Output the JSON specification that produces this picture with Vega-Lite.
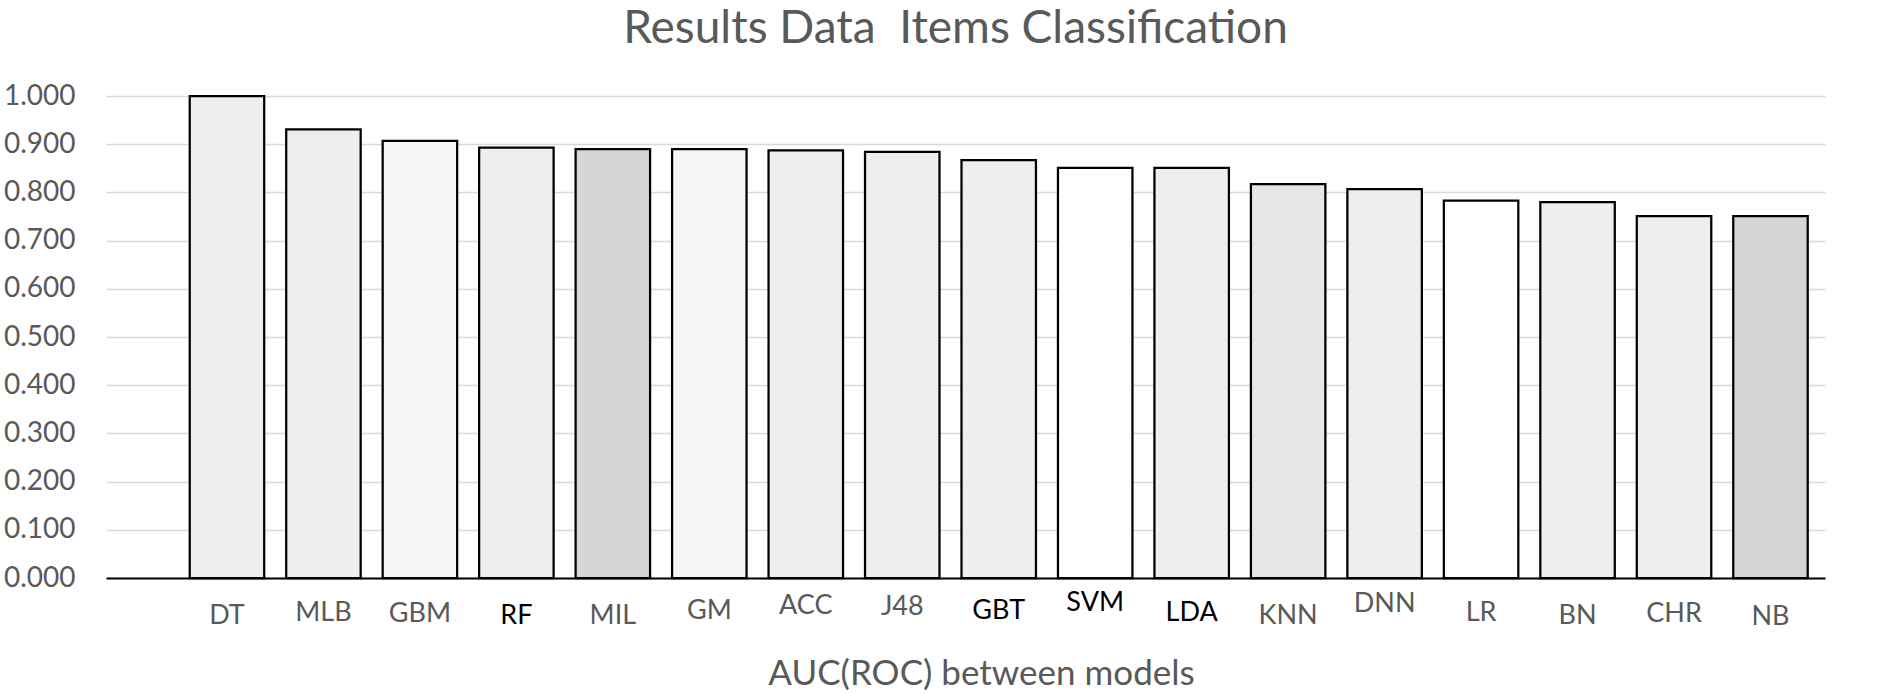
{
  "$schema": "https://vega.github.io/schema/vega-lite/v6.json",
  "width": 1719,
  "height": 482,
  "autosize": {"type": "none"},
  "padding": {"left": 106, "top": 96, "right": 70, "bottom": 116},
  "background": "white",
  "title": {
    "text": "Results Data\u00a0 Items Classification",
    "font": "Lato",
    "fontSize": 46,
    "fontWeight": "normal",
    "color": "#595959",
    "anchor": "middle",
    "frame": "group",
    "baseline": "alphabetic",
    "offset": -7,
    "dx": -10
  },
  "data": {
    "values": [
      {"model": "DT", "auc": 1.0},
      {"model": "MLB", "auc": 0.931},
      {"model": "GBM", "auc": 0.907},
      {"model": "RF", "auc": 0.893},
      {"model": "MIL", "auc": 0.89},
      {"model": "GM", "auc": 0.89},
      {"model": "ACC", "auc": 0.887},
      {"model": "J48", "auc": 0.884},
      {"model": "GBT", "auc": 0.867},
      {"model": "SVM", "auc": 0.851},
      {"model": "LDA", "auc": 0.851},
      {"model": "KNN", "auc": 0.817},
      {"model": "DNN", "auc": 0.807},
      {"model": "LR", "auc": 0.783},
      {"model": "BN", "auc": 0.78},
      {"model": "CHR", "auc": 0.751},
      {"model": "NB", "auc": 0.751}
    ]
  },
  "mark": {"type": "bar", "stroke": "black", "strokeWidth": 2.25},
  "encoding": {
    "x": {
      "field": "model",
      "type": "nominal",
      "sort": null,
      "scale": {"paddingInner": 0.228, "paddingOuter": 0.5235, "align": 0.829},
      "axis": {
        "title": "AUC(ROC) between models",
        "titleFont": "Lato",
        "titleFontSize": 35,
        "titleFontWeight": "normal",
        "titleColor": "#595959",
        "titleX": 875,
        "titleY": 106,
        "titleAlign": "center",
        "titleBaseline": "alphabetic",
        "labelAngle": 0,
        "labelFont": "Lato",
        "labelFontSize": 27,
        "labelColor": {"expr": "indexof(['RF','GBT','SVM','LDA'], datum.value) >= 0 ? '#000000' : '#595959'"},
        "labelBaseline": "middle",
        "labelPadding": {"expr": "37 + (datum.value === 'SVM' ? -13 : datum.value === 'DNN' ? -12 : datum.value === 'ACC' ? -10 : datum.value === 'J48' ? -9 : (datum.value === 'GM' || datum.value === 'GBT') ? -5 : (datum.value === 'MLB' || datum.value === 'LDA' || datum.value === 'LR') ? -3 : (datum.value === 'GBM' || datum.value === 'CHR') ? -1.5 : datum.value === 'NB' ? 1.5 : 0)"},
        "ticks": false,
        "tickSize": 0,
        "domainColor": "#000000",
        "domainWidth": 2,
        "grid": false
      }
    },
    "y": {
      "field": "auc",
      "type": "quantitative",
      "scale": {"domain": [0, 1], "nice": false},
      "axis": {
        "title": null,
        "values": [0, 0.1, 0.2, 0.3, 0.4, 0.5, 0.6, 0.7, 0.8, 0.9, 1.0],
        "format": ".3f",
        "labelFont": "Lato",
        "labelFontSize": 28,
        "labelColor": "#595959",
        "labelPadding": 31,
        "ticks": false,
        "tickSize": 0,
        "domain": false,
        "grid": true,
        "gridColor": "#d9d9d9",
        "gridWidth": 1.5
      }
    },
    "fill": {
      "condition": [
        {"test": "datum.model === 'SVM' || datum.model === 'LR'", "value": "#ffffff"},
        {"test": "datum.model === 'MIL' || datum.model === 'NB'", "value": "#d6d6d6"},
        {"test": "datum.model === 'GBM' || datum.model === 'GM'", "value": "#f6f6f6"},
        {"test": "datum.model === 'KNN'", "value": "#e6e6e6"}
      ],
      "value": "#eeeeee"
    }
  },
  "config": {"view": {"stroke": null}}
}
